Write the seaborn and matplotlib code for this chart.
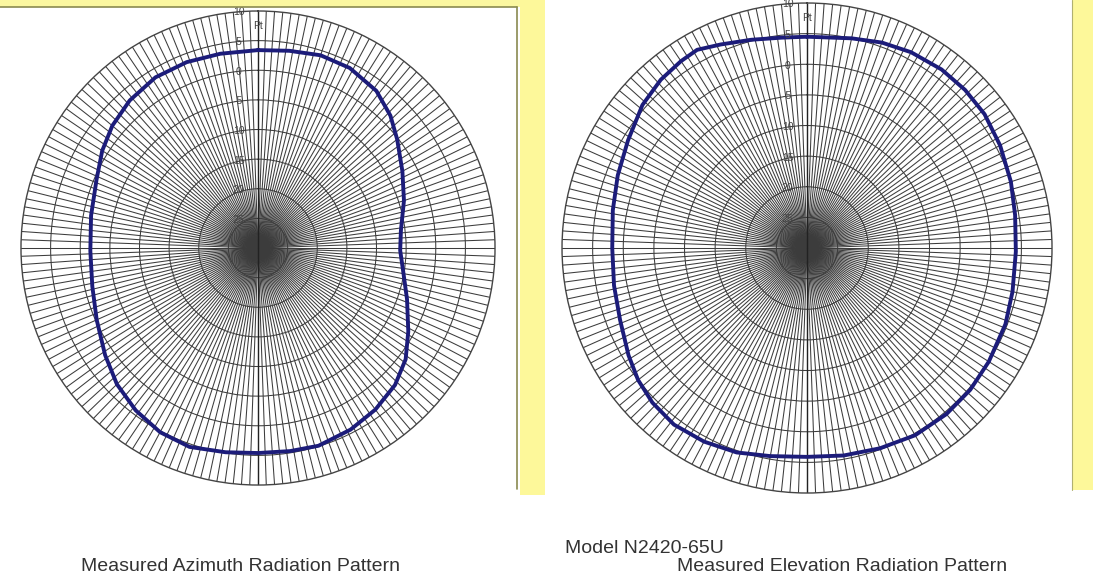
import numpy as np
import pandas as pd
import matplotlib
matplotlib.use("Agg")
import matplotlib.pyplot as plt
import seaborn as sns

# =========================
# Data
# =========================
az_angle_deg = [0, 9, 18, 27, 37, 45, 52, 62, 72, 83, 91, 99, 109, 119, 127,
                135, 144, 153, 163, 171, 180, 189, 199, 208, 217, 226, 235,
                246, 257, 269, 281, 293, 302, 310, 319, 329, 339, 349]
az_level_db = [3.4, 3.7, 4.2, 4.1, 3.2, 1.6, -0.2, -2.4, -4.1, -5.7, -6.0, -5.2,
               -3.4, -1.0, 1.2, 2.7, 3.7, 4.4, 4.9, 4.7, 4.6, 4.9, 5.5, 5.2,
               4.3, 3.1, 1.5, -0.2, -1.3, -1.7, -1.3, -0.4, 1.0, 2.1, 3.0,
               3.6, 3.6, 3.4]

el_angle_deg = [0, 12, 20, 28, 37, 45, 53, 62, 72, 81, 91, 102, 111, 122, 131,
                140, 150, 160, 170, 180, 190, 199, 208, 217, 225, 232, 239,
                249, 259, 270, 281, 291, 301, 311, 319, 326, 331, 337, 345, 353]
el_level_db = [4.5, 5.0, 5.7, 6.2, 6.5, 6.5, 6.3, 5.7, 5.0, 4.4, 4.1, 4.3, 4.7,
               5.0, 5.3, 5.4, 5.3, 4.8, 4.4, 4.1, 4.5, 5.3, 5.8, 6.1, 5.7,
               5.0, 4.0, 2.7, 2.1, 1.8, 2.3, 3.1, 4.1, 5.6, 6.4, 6.8, 7.0,
               6.1, 5.2, 4.6]

ring_levels = [-25, -20, -15, -10, -5, 0, 5, 10]
ring_labels = ["25", "20", "15", "10", "-5", "0", "5", "10"]
r_min, r_max = -30, 10

title_model = "Model N2420-65U"
title_az = "Measured Azimuth Radiation Pattern"
title_el = "Measured Elevation Radiation Pattern"

# =========================
# Figure
# =========================
sns.set_style("white")
plt.rcParams["font.family"] = ["Liberation Sans", "DejaVu Sans"]

fig = plt.figure(figsize=(10.93, 5.79), dpi=100)
fig.patch.set_facecolor("white")

# yellow frame / strips from the original screenshot
fig.add_artist(plt.Rectangle((0.0, 0.988), 0.476, 0.012, transform=fig.transFigure,
                             color="#fbf7a0", lw=0))
fig.add_artist(plt.Rectangle((0.476, 0.145), 0.023, 0.855, transform=fig.transFigure,
                             color="#fdf89a", lw=0))
fig.add_artist(plt.Line2D([0.0, 0.473], [0.988, 0.988], transform=fig.transFigure,
                          color="#8a8a50", lw=1.2))
fig.add_artist(plt.Line2D([0.473, 0.473], [0.155, 0.988], transform=fig.transFigure,
                          color="#8a8a50", lw=1.2))
fig.add_artist(plt.Rectangle((0.981, 0.153), 0.019, 0.847, transform=fig.transFigure,
                             color="#fdf89a", lw=0))
fig.add_artist(plt.Line2D([0.981, 0.981], [0.153, 1.0], transform=fig.transFigure,
                          color="#b0b070", lw=0.8))


def draw_pattern(ax, angles, levels):
    ax.set_theta_zero_location("N")
    ax.set_theta_direction(-1)
    ax.set_ylim(r_min, r_max)
    ax.set_rticks(ring_levels[:-1])
    ax.set_yticklabels([])
    ax.set_thetagrids(np.arange(0, 360, 2), labels=[])
    ax.grid(True, color="#3c3c3c", lw=0.75)
    ax.spines["polar"].set_color("#444444")
    ax.spines["polar"].set_linewidth(1.0)
    ax.plot([0, 0], [r_min, r_max], color="#222222", lw=1.0)
    ax.plot([np.pi, np.pi], [r_min, r_max], color="#222222", lw=1.0)

    # close the loop at 360 deg so seaborn does not merge the duplicate x
    df = pd.DataFrame({
        "theta": np.deg2rad(angles + [360]),
        "level": levels + levels[:1],
    })
    sns.lineplot(data=df, x="theta", y="level", sort=False, ax=ax,
                 color="#1c1c7a", lw=2.8)
    ax.set_xlabel("")
    ax.set_ylabel("")

    for lvl, lab in zip(ring_levels, ring_labels):
        ax.annotate(lab, xy=(0, lvl), xytext=(-14, -1), textcoords="offset points",
                    ha="center", va="center", fontsize=7.5, color="#444444")
    ax.annotate("Pt", xy=(0, 7.5), xytext=(0, 0), textcoords="offset points",
                ha="center", va="center", fontsize=7.5, color="#444444")


ax1 = fig.add_axes([0.0192, 0.1623, 0.4337, 0.8187], projection="polar")
draw_pattern(ax1, az_angle_deg, az_level_db)

ax2 = fig.add_axes([0.5142, 0.1485, 0.4483, 0.8463], projection="polar")
draw_pattern(ax2, el_angle_deg, el_level_db)

fig.text(0.590, 0.053, title_model, ha="center", va="center", fontsize=14, color="#333333")
fig.text(0.220, 0.022, title_az, ha="center", va="center", fontsize=14, color="#333333")
fig.text(0.770, 0.022, title_el, ha="center", va="center", fontsize=14, color="#333333")

plt.savefig("out.png", dpi=100)
